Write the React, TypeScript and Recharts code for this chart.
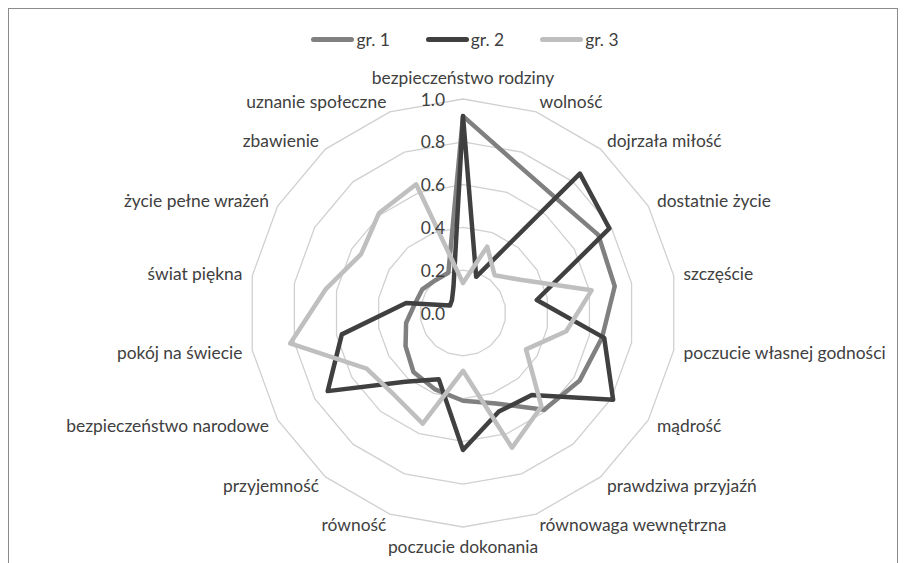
import {
  Legend,
  PolarAngleAxis,
  PolarGrid,
  PolarRadiusAxis,
  Radar,
  RadarChart,
} from "recharts";

const categories = [
  "bezpieczeństwo rodziny",
  "wolność",
  "dojrzała miłość",
  "dostatnie życie",
  "szczęście",
  "poczucie własnej godności",
  "mądrość",
  "prawdziwa przyjaźń",
  "równowaga wewnętrzna",
  "poczucie dokonania",
  "równość",
  "przyjemność",
  "bezpieczeństwo narodowe",
  "pokój na świecie",
  "świat piękna",
  "życie pełne wrażeń",
  "zbawienie",
  "uznanie społeczne",
];

const gr1 = [0.92, 0.74, 0.69, 0.73, 0.72, 0.66, 0.63, 0.59, 0.45, 0.41, 0.38, 0.36, 0.31, 0.27, 0.23, 0.22, 0.2, 0.2];
const gr2 = [0.92, 0.18, 0.85, 0.79, 0.35, 0.67, 0.81, 0.5, 0.49, 0.64, 0.33, 0.42, 0.73, 0.575, 0.27, 0.07, 0.08, 0.13];
const gr3 = [0.14, 0.33, 0.23, 0.31, 0.61, 0.49, 0.34, 0.57, 0.67, 0.27, 0.55, 0.5, 0.52, 0.82, 0.65, 0.55, 0.61, 0.64];

const radiusTicks = [0, 0.2, 0.4, 0.6, 0.8, 1.0];

const seriesInfo = [
  { key: "gr1", name: "gr. 1", color: "#808080" },
  { key: "gr2", name: "gr. 2", color: "#404040" },
  { key: "gr3", name: "gr. 3", color: "#bfbfbf" },
];

const data = categories.map((name, i) => ({
  name,
  gr1: gr1[i],
  gr2: gr2[i],
  gr3: gr3[i],
}));

const FONT = "Lato, 'Open Sans', sans-serif";
const CX = 454;
const CY = 304;

function AngleTick(props: any) {
  const { x, y, payload, textAnchor } = props;
  const dx = x - CX;
  const dy = y - CY;
  const d = Math.hypot(dx, dy) || 1;
  const ux = dx / d;
  const uy = dy / d;
  let lx = x + ux * 2;
  let ly = y + uy * 3;
  if (Math.abs(ux) < 0.05) ly = y + (uy < 0 ? -14 : 11);
  return (
    <text
      x={lx}
      y={ly}
      textAnchor={textAnchor}
      dominantBaseline="central"
      fill="#404040"
      fontSize={17.4}
      fontFamily={FONT}
    >
      {payload.value}
    </text>
  );
}

function RadiusTick(props: any) {
  const { x, y, payload } = props;
  return (
    <text
      x={x - 18}
      y={y}
      textAnchor="end"
      dominantBaseline="central"
      fill="#404040"
      fontSize={17.4}
      fontFamily={FONT}
    >
      {Number(payload.value).toFixed(1)}
    </text>
  );
}

function LegendRow() {
  return (
    <div style={{ display: "flex", justifyContent: "center", gap: 36, paddingLeft: 24, fontFamily: FONT, fontSize: 17.4, color: "#404040" }}>
      {seriesInfo.map((s) => (
        <div key={s.key} style={{ display: "flex", alignItems: "center" }}>
          <span style={{ display: "inline-block", width: 43, height: 5, borderRadius: 3, background: s.color, marginRight: 2 }} />
          <span>{s.name}</span>
        </div>
      ))}
    </div>
  );
}

export default function App() {
  return (
    <div style={{ width: 888, height: 570, border: "1px solid #8c8c8c", background: "#fff", fontFamily: FONT }}>
      <RadarChart width={888} height={570} data={data} cx={CX} cy={CY} outerRadius={214} margin={{ top: 0, right: 0, bottom: 0, left: 0 }}>
        <PolarGrid gridType="polygon" radialLines={false} stroke="#d0d0d0" strokeWidth={1.3} />
        <PolarAngleAxis dataKey="name" tick={<AngleTick />} tickLine={false} axisLine={false} />
        <PolarRadiusAxis
          angle={90}
          domain={[0, 1]}
          ticks={radiusTicks}
          tickCount={6}
          axisLine={false}
          tickLine={false}
          tick={<RadiusTick />}
        />
        {seriesInfo.map((s) => (
          <Radar
            key={s.key}
            dataKey={s.key}
            name={s.name}
            stroke={s.color}
            strokeWidth={4.5}
            strokeLinejoin="round"
            fill="none"
            fillOpacity={0}
            dot={false}
            isAnimationActive={false}
          />
        ))}
        <Legend verticalAlign="top" wrapperStyle={{ top: 20 }} content={() => <LegendRow />} />
      </RadarChart>
    </div>
  );
}
